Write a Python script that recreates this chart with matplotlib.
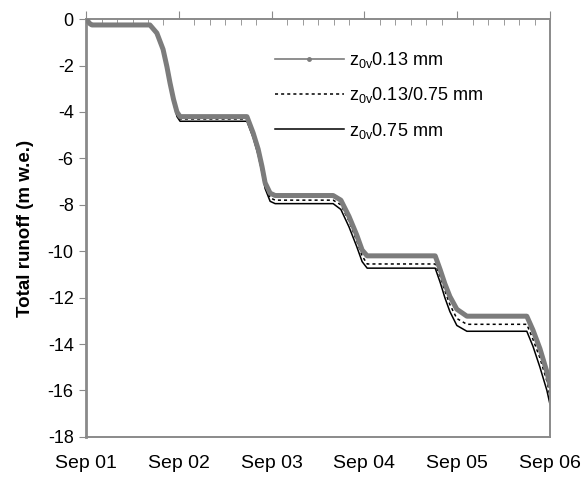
import matplotlib
matplotlib.use('Agg')
import matplotlib.pyplot as plt
from matplotlib.lines import Line2D
from matplotlib.ticker import MultipleLocator

plt.rcParams['font.family'] = ['Liberation Sans', 'DejaVu Sans']
plt.rcParams['axes.unicode_minus'] = False
plt.rcParams['mathtext.default'] = 'regular'

# hours since Sep 01 00:00
hours = [0, 1, 1.5, 16.5, 18.3, 19.9, 20.9, 21.7, 22.6, 23.5, 24.3,
         41.6, 43.2, 44.5, 45.5, 46.3, 47.6, 48.9,
         63.9, 65.9, 68.0, 70.0, 71.4, 72.7,
         90.3, 91.6, 92.8, 94.1, 95.9, 98.5,
         114.0, 115.6, 117.4, 119.2, 120]

runoff_013 = [0, -0.2, -0.25, -0.25, -0.6, -1.3, -2.05, -2.75, -3.45, -4.0, -4.2,
              -4.2, -4.9, -5.6, -6.35, -7.05, -7.5, -7.6,
              -7.6, -7.8, -8.5, -9.3, -9.95, -10.2,
              -10.2, -10.8, -11.4, -11.95, -12.5, -12.8,
              -12.8, -13.4, -14.2, -15.2, -15.8]

runoff_mix = [0, -0.22, -0.27, -0.27, -0.62, -1.35, -2.1, -2.8, -3.5, -4.1, -4.3,
              -4.3, -5.0, -5.7, -6.45, -7.15, -7.7, -7.8,
              -7.8, -8.0, -8.7, -9.55, -10.2, -10.55,
              -10.55, -11.1, -11.7, -12.3, -12.9, -13.15,
              -13.15, -13.8, -14.6, -15.6, -16.25]

runoff_075 = [0, -0.25, -0.3, -0.3, -0.65, -1.4, -2.15, -2.85, -3.6, -4.2, -4.4,
              -4.4, -5.1, -5.85, -6.6, -7.3, -7.85, -7.95,
              -7.95, -8.2, -8.95, -9.8, -10.45, -10.73,
              -10.73, -11.35, -12.0, -12.6, -13.2, -13.45,
              -13.45, -14.1, -15.0, -16.0, -16.6]

day_ticks = [0, 24, 48, 72, 96, 120]
day_labels = ['Sep 01', 'Sep 02', 'Sep 03', 'Sep 04', 'Sep 05', 'Sep 06']
labels = [r'$z_{0v}$0.13 mm', r'$z_{0v}$0.13/0.75 mm', r'$z_{0v}$0.75 mm']

GREY = '#7c7c7c'
FRAME = '#8a8a8a'

fig = plt.figure(figsize=(5.82, 4.79), dpi=100)
ax = fig.add_axes([0.148, 0.088, 0.797, 0.872])

ax.plot(hours, runoff_075, color='black', lw=1.1, zorder=2)
ax.plot(hours, runoff_mix, color='black', lw=1.1, dashes=(2, 2), zorder=2)
ax.plot(hours, runoff_013, color=GREY, lw=3.6, zorder=3,
        solid_joinstyle='round', solid_capstyle='round')

ax.set_xlim(0, 120)
ax.set_ylim(-18, 0)
ax.set_xticks(day_ticks)
ax.set_xticklabels(day_labels)
ax.xaxis.set_minor_locator(MultipleLocator(4))
ax.set_yticks(range(-18, 1, 2))

ax.tick_params(axis='x', which='major', top=True, bottom=False, labelbottom=True,
               labeltop=False, direction='out', length=6, color=FRAME, pad=7,
               labelsize=14)
ax.tick_params(axis='x', which='minor', top=True, bottom=False,
               direction='in', length=4, color=FRAME)
ax.tick_params(axis='y', direction='out', length=5, color=FRAME, pad=4,
               labelsize=13)

for side in ['left', 'right', 'top', 'bottom']:
    ax.spines[side].set_color(FRAME)
    ax.spines[side].set_linewidth(1.4)
ax.spines['left'].set_linewidth(2)

ax.set_ylabel('Total runoff (m w.e.)', fontsize=13.5, fontweight='bold', labelpad=10)

handles = [Line2D([0], [0], color=GREY, lw=1.2, marker='o', ms=2.5),
           Line2D([0], [0], color='black', lw=1.1, dashes=(2, 2)),
           Line2D([0], [0], color='black', lw=1.1)]
ax.legend(handles, labels, loc='upper left', bbox_to_anchor=(0.372, 0.965),
          frameon=False, fontsize=13, handlelength=3.8, handletextpad=0.3,
          labelspacing=0.85)

fig.savefig('out.png', dpi=100)
